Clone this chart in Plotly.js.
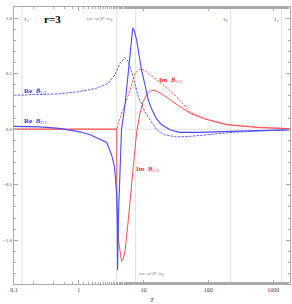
<!DOCTYPE html>
<html><head><meta charset="utf-8">
<script src="https://cdn.plot.ly/plotly-3.0.1.min.js"></script>
<style>html,body{margin:0;padding:0;background:#fff}#c{width:292px;height:304px}</style>
</head><body><div id="c"></div>
<script>
// Re B~_{1/2} (dashed blue)
var T_ReBt = [0.1,0.25,0.5,1.0,1.8,2.8,3.6,4.3,5.1,5.8,6.9,8.3,10.5,12.6,16,21,32,52,95,215,625,1800];
var ReBt   = [0.305,0.31,0.318,0.338,0.365,0.41,0.49,0.59,0.645,0.61,0.471,0.291,0.156,0.084,-0.006,-0.05,-0.07,-0.065,-0.05,-0.03,-0.015,-0.006];
// Re B_{1/2} (solid blue)
var T_ReB = [0.1,0.25,0.5,0.73,1.04,1.5,2.1,2.7,3.2,3.5,3.62,3.75,3.85,3.93,3.97,4.1,4.25,4.57,5.17,5.83,6.55,6.8,7.1,7.8,8.5,9.3,10.5,11.8,13.5,15.5,19,25.5,36,74,215,625,1800];
var ReB   = [0.025,0.021,0.007,-0.006,-0.024,-0.05,-0.087,-0.12,-0.23,-0.32,-0.385,-0.5,-0.59,-0.9,-1.27,-0.77,-0.455,0.0,0.22,0.534,0.87,0.91,0.895,0.805,0.67,0.534,0.4,0.264,0.174,0.102,0.039,-0.006,-0.029,-0.029,-0.02,-0.011,-0.006];
// Im B_{1/2} (solid red)
var T_ImB = [0.1,1,3.85,3.86,3.9,4.0,4.15,4.35,4.57,4.85,5.2,5.81,6.55,7.35,7.8,8.78,9.86,11.8,13.3,15,19,25.5,36,52,88.6,193,625,1800];
var ImB   = [0,0,0,-0.55,-0.75,-0.9,-1.02,-1.12,-1.19,-1.17,-1.09,-0.817,-0.457,-0.186,-0.033,0.14,0.25,0.33,0.35,0.348,0.318,0.265,0.205,0.145,0.092,0.039,0.0135,0.005];
// Im B~_{1/2} (dashed red)
var T_ImBt = [0.1,1,3.85,4.0,4.28,4.8,5.5,6.2,7.35,8.78,10.1,11.8,16.8,22,30.5,52,88.6,193,625,1800];
var ImBt   = [0,0,0,0.03,0.093,0.174,0.264,0.354,0.505,0.541,0.535,0.505,0.429,0.38,0.309,0.156,0.093,0.043,0.016,0.005];
// reference temperatures (vertical grid lines)
var markT = [0.133,3.85,7.55,221,1352];

var blue='#4a4aff', red='#ff4d4d';
var traces=[
 {x:T_ImB,y:ImB,mode:'lines',line:{color:red,width:1}},
 {x:T_ImBt,y:ImBt,mode:'lines',line:{color:red,width:0.9,dash:'2.5px,1.2px'}},
 {x:T_ReBt,y:ReBt,mode:'lines',line:{color:blue,width:0.9,dash:'2.5px,1.2px'}},
 {x:T_ReB,y:ReB,mode:'lines',line:{color:blue,width:1.1}}
];
var shapes=markT.map(function(t){return {type:'line',xref:'x',yref:'paper',x0:t,x1:t,y0:0,y1:1,layer:'below',line:{color:'#e2e2e2',width:1}};});
shapes.push({type:'line',xref:'paper',yref:'y',x0:0,x1:1,y0:0,y1:0,layer:'below',line:{color:'#e2e2e2',width:1}});
var F='Liberation Serif';
function ann(x,y,t,o){var a={x:x,y:y,text:t,showarrow:false,xanchor:'left',yanchor:'middle',font:{family:F,size:7,color:'#777'}};for(var k in o)a[k]=o[k];return a;}
var L=Math.log10;
var annotations=[
 ann(L(0.133),0.994,'<i>τ<sub>c</sub></i>'),
 ann(L(0.27),0.994,'<b>r=3</b>',{font:{family:F,size:11,color:'#000'}}),
 ann(L(2.12),0.994,'(<i>m</i>+<i>m</i>\')<i>T</i>=<i>m<sub>φ</sub></i>',{xanchor:'center',font:{family:F,size:5,color:'#777'}}),
 ann(L(190),0.994,'<i>τ<sub>b</sub></i>',{xanchor:'center'}),
 ann(L(1150),0.994,'<i>τ<sub>ν</sub></i>',{xanchor:'center'}),
 ann(L(7.9),-1.304,'(<i>m</i>+<i>m</i>\')<i>T</i>=<i>m<sub>χ</sub></i>',{font:{family:F,size:5,color:'#777'}}),
 ann(L(0.133),0.345,'<b>Re  <i>B̃</i></b><sub>1/2</sub>',{font:{family:F,size:7,color:'#3a3add'}}),
 ann(L(0.133),0.075,'<b>Re  <i>B</i></b><sub>1/2</sub>',{font:{family:F,size:7,color:'#3a3add'}}),
 ann(L(16.1),0.444,'<b>Im  <i>B̃</i></b><sub>1/2</sub>',{font:{family:F,size:7,color:'#ee3333'}}),
 ann(L(7.1),-0.358,'<b>Im  <i>B</i></b><sub>1/2</sub>',{font:{family:F,size:7,color:'#ee3333'}})
];
var layout={
 width:292,height:304,margin:{l:14,r:2,t:7,b:20},
 paper_bgcolor:'#fff',plot_bgcolor:'#fff',showlegend:false,
 xaxis:{type:'log',range:[-1,3.26],tickvals:[0.1,1,10,100,1000],ticktext:['0.1','1','10','100','1000'],
   showgrid:false,zeroline:false,showline:true,mirror:'allticks',linecolor:'#aaa',linewidth:1,
   ticks:'inside',ticklen:4,tickcolor:'#aaa',tickfont:{family:F,size:6,color:'#444'},
   minor:{ticks:'inside',ticklen:2,tickcolor:'#aaa',showgrid:false},
   title:{text:'<i>T</i>',font:{family:F,size:7,color:'#444'},standoff:4}},
 yaxis:{range:[-1.394,1.10],tickvals:[-1,-0.5,0,0.5,1],ticktext:['−1.0','−0.5','0.0','0.5','1.0'],
   showgrid:false,zeroline:false,showline:true,mirror:'allticks',linecolor:'#aaa',linewidth:1,
   ticks:'inside',ticklen:4,tickcolor:'#aaa',tickfont:{family:F,size:5,color:'#444'},
   minor:{ticks:'inside',ticklen:2,dtick:0.1,tickcolor:'#aaa',showgrid:false}},
 shapes:shapes,annotations:annotations
};
Plotly.newPlot('c',traces,layout,{staticPlot:true,displayModeBar:false});
</script></body></html>
